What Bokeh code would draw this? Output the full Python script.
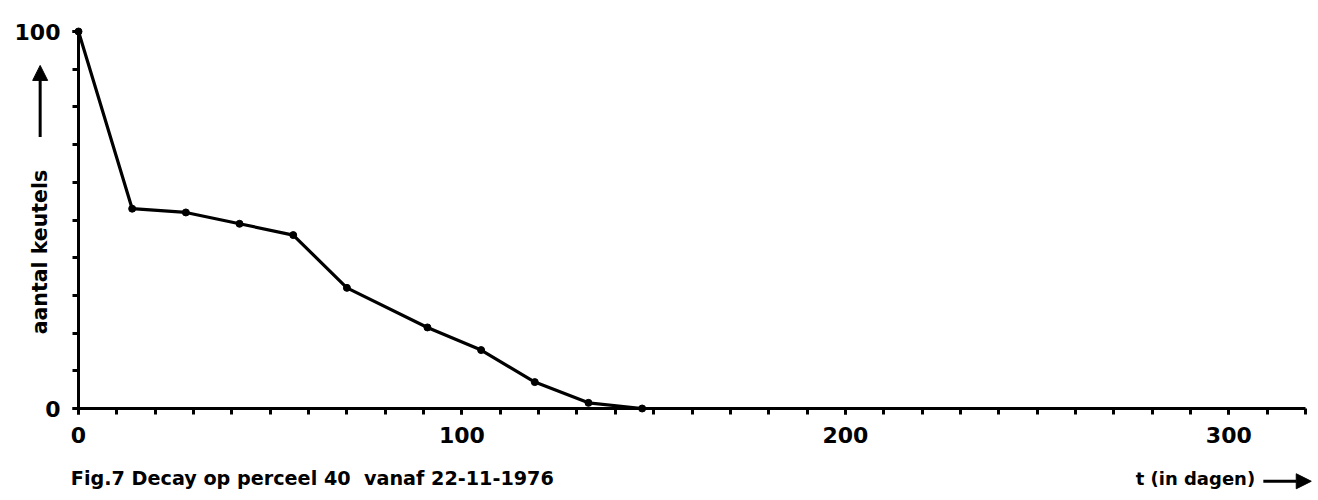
import math
from bokeh.plotting import figure
from bokeh.models import Range1d, FixedTicker, Arrow, NormalHead
from bokeh.core.properties import value
from bokeh.embed import file_html
from bokeh.resources import INLINE

# Data (days since 22-11-1976, number of droppings)
t_days = [0, 14, 28, 42, 56, 70, 91, 105, 119, 133, 147]
aantal = [100, 53, 52, 49, 46, 32, 21.5, 15.5, 7, 1.5, 0]

x_major = [0, 100, 200, 300]
x_minor = list(range(0, 330, 10))
y_major = [0, 100]
y_minor = list(range(0, 110, 10))

caption = "Fig.7 Decay op perceel 40\u00a0\u00a0vanaf 22-11-1976"
x_title = "t (in dagen)"
y_title = "aantal keutels"

FONT = "DejaVu Sans"

# frame covers whole canvas; axes are drawn at fixed locations inside it
XS = 1227 / 320.0   # px per day
YS = 377 / 100.0    # px per count
x0, y0 = 78, 408    # pixel position of origin
x_rng = Range1d(-x0 / XS, (1318 - x0) / XS)
y_rng = Range1d(-(500 - y0) / YS, y0 / YS)

p = figure(width=1318, height=500, output_backend="svg", toolbar_location=None,
           x_range=x_rng, y_range=y_rng,
           min_border_left=0, min_border_right=0, min_border_top=0, min_border_bottom=0)
p.outline_line_color = None
p.grid.visible = False
p.background_fill_color = "white"
p.border_fill_color = "white"

for ax in (p.xaxis[0], p.yaxis[0]):
    ax.axis_line_width = 3
    ax.axis_line_color = "black"
    ax.major_tick_line_width = 3
    ax.minor_tick_line_width = 3
    ax.major_tick_in = 0
    ax.minor_tick_in = 0
    ax.major_tick_out = 6
    ax.minor_tick_out = 6
    ax.major_label_text_font = FONT
    ax.major_label_text_font_style = "bold"
    ax.major_label_text_font_size = "22px"
    ax.major_label_text_color = "black"

p.xaxis[0].ticker = FixedTicker(ticks=x_major, minor_ticks=x_minor)
p.yaxis[0].ticker = FixedTicker(ticks=y_major, minor_ticks=y_minor)
p.xaxis[0].fixed_location = 0
p.yaxis[0].fixed_location = 0
p.xaxis[0].bounds = (0, 320)
p.yaxis[0].bounds = (0, 100)
p.xaxis[0].major_label_standoff = 12
p.yaxis[0].major_label_standoff = 12

p.line(t_days, aantal, line_color="black", line_width=3.2)
p.scatter(t_days, aantal, size=7, color="black", marker="circle")

# y title (rotated) with arrow
p.text(x=[-10], y=[41.5], text=[y_title], angle=math.pi / 2,
       text_align="center", text_baseline="middle",
       text_font=value(FONT), text_font_style="bold", text_font_size="20.5px",
       text_color="black")
p.add_layout(Arrow(x_start=-10, y_start=72, x_end=-10, y_end=91,
                   line_width=3, line_color="black",
                   end=NormalHead(size=15, fill_color="black", line_color="black")))

# caption and x title
p.text(x=[-2], y=[-18.5], text=[caption], text_align="left", text_baseline="middle",
       text_font=value(FONT), text_font_style="bold", text_font_size="19.2px",
       text_color="black")
p.text(x=[275.7], y=[-18.5], text=[x_title], text_align="left", text_baseline="middle",
       text_font=value(FONT), text_font_style="bold", text_font_size="18px",
       text_color="black")
p.add_layout(Arrow(x_start=309, y_start=-19.3, x_end=321.5, y_end=-19.3,
                   line_width=3, line_color="black",
                   end=NormalHead(size=15, fill_color="black", line_color="black")))

open("out.html", "w").write(file_html(p, INLINE))
